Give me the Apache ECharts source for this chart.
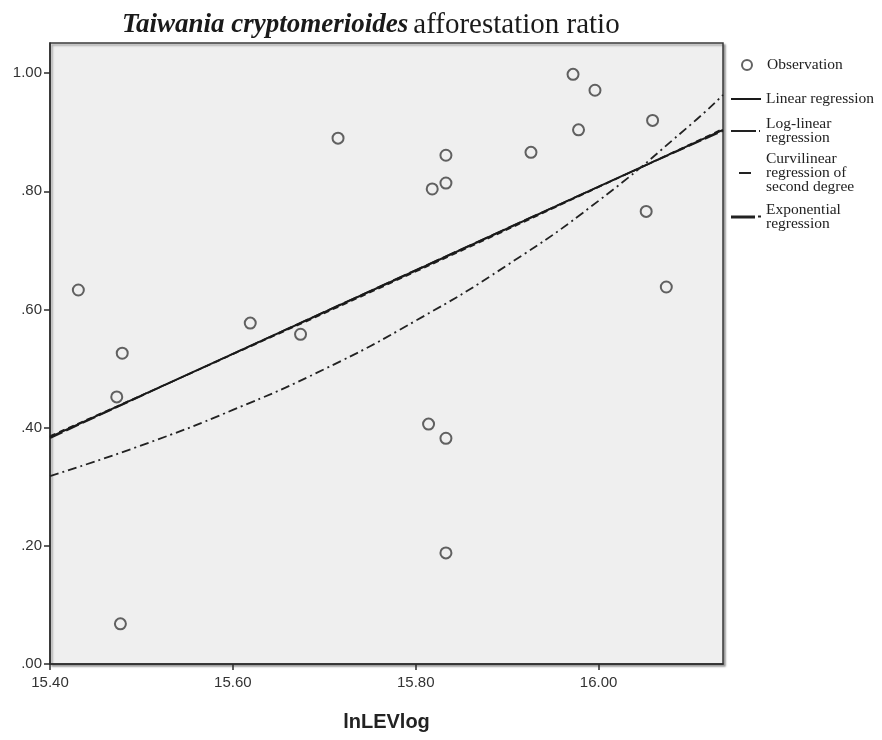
<!DOCTYPE html>
<html lang="en">
<head>
    <meta charset="UTF-8">
    <title>Taiwania cryptomerioides afforestation ratio</title>
    <script src="https://cdn.jsdelivr.net/npm/echarts@6/dist/echarts.min.js"></script>
    <style>
        body { margin: 0; background: #fff; }
    </style>
</head>
<body>
    <div id="graph" style="width: 882px; height: 740px;"></div>

    <script>
        // observations (lnLEVlog, afforestation ratio)
        var obsX = [15.431, 15.479, 15.473, 15.477, 15.619, 15.674, 15.715, 15.818, 15.833, 15.833,
                    15.814, 15.833, 15.833, 15.926, 15.972, 15.996, 15.978, 16.059, 16.052, 16.074];
        var obsY = [0.633, 0.526, 0.452, 0.068, 0.577, 0.558, 0.890, 0.804, 0.814, 0.861,
                    0.406, 0.382, 0.188, 0.866, 0.998, 0.971, 0.904, 0.920, 0.766, 0.638];

        // fitted curves
        var fitX = [15.40, 15.60, 15.80, 16.00, 16.136];
        var linearY = [0.384, 0.525, 0.666, 0.808, 0.904];
        var logLinearY = [0.382, 0.525, 0.667, 0.808, 0.902];
        var quadY = [0.386, 0.524, 0.664, 0.807, 0.906];
        var expX = [15.40, 15.50, 15.60, 15.70, 15.80, 15.90, 16.00, 16.10, 16.136];
        var expY = [0.318, 0.370, 0.430, 0.499, 0.581, 0.675, 0.784, 0.912, 0.963];

        var xTicks = [15.4, 15.6, 15.8, 16.0];
        var yTicks = [0, 0.2, 0.4, 0.6, 0.8, 1.0];

        function pairs(xs, ys) {
            var out = [];
            for (var i = 0; i < xs.length; i++) out.push([xs[i], ys[i]]);
            return out;
        }

        var ink = '#2b2b2b';
        var serif = '"Liberation Serif", "DejaVu Serif", serif';
        var sans = '"Liberation Sans", Arial, sans-serif';

        function oneLegend(name, top, icon, h) {
            return {
                data: [{name: name, icon: icon}],
                left: 731, top: top, padding: 0,
                itemWidth: 30, itemHeight: h,
                textStyle: {fontFamily: serif, fontSize: 15.5, lineHeight: 14, color: '#222'},
                selectedMode: false
            };
        }

        var myChart = echarts.init(document.getElementById('graph'));
        var option = {
            animation: false,
            title: {
                text: '{i|Taiwania cryptomerioides} {n|afforestation ratio}',
                left: 117, top: 6,
                textStyle: {
                    rich: {
                        i: {fontFamily: serif, fontSize: 27, fontStyle: 'italic', fontWeight: 'bold', color: '#1a1a1a'},
                        n: {fontFamily: serif, fontSize: 29, fontWeight: 'normal', color: '#1a1a1a'}
                    }
                }
            },
            legend: [
                oneLegend('Observation', 57, 'path://M0,5 L0,5 M30,5 L30,5 M20,5 A5,5 0 1 1 10,5 A5,5 0 1 1 20,5 Z', 10),
                oneLegend('Linear regression', 91, 'rect', 2),
                oneLegend('Log-linear\nregression', 116, 'path://M0,0 H25 V2 H0 Z M28,0 H29 V2 H28 Z M30,1 L30,1', 2),
                oneLegend('Curvilinear\nregression of\nsecond degree', 151, 'path://M0,0 L0,0 M8,0 H20 V2 H8 Z M30,0 L30,0', 2),
                oneLegend('Exponential\nregression', 202, 'path://M0,0 H24 V3 H0 Z M27,0 H30 V2 H27 Z', 3)
            ],
            grid: {
                left: 50, top: 43, width: 673, height: 621,
                show: true,
                backgroundColor: '#efefef',
                borderColor: '#3a3a3a',
                borderWidth: 1.5,
                shadowColor: 'rgba(0,0,0,0.35)',
                shadowBlur: 2,
                shadowOffsetX: 2,
                shadowOffsetY: 2
            },
            xAxis: {
                type: 'value',
                min: 15.4, max: 16.136,
                name: 'lnLEVlog',
                nameLocation: 'middle',
                nameGap: 48,
                nameTextStyle: {fontFamily: sans, fontSize: 20, fontWeight: 'bold', color: '#222'},
                splitLine: {show: false},
                axisLine: {show: true, lineStyle: {color: ink, width: 1.5}},
                axisTick: {show: true, length: 6, customValues: xTicks, lineStyle: {color: ink, width: 1.5}},
                axisLabel: {
                    customValues: xTicks,
                    margin: 11,
                    fontFamily: sans, fontSize: 15, color: '#333',
                    formatter: function (v) { return v.toFixed(2); }
                }
            },
            yAxis: {
                type: 'value',
                min: 0, max: 1.051,
                splitLine: {show: false},
                axisLine: {show: true, lineStyle: {color: ink, width: 1.5}},
                axisTick: {show: true, length: 6, customValues: yTicks, lineStyle: {color: ink, width: 1.5}},
                axisLabel: {
                    customValues: yTicks,
                    margin: 8,
                    fontFamily: sans, fontSize: 15, color: '#333',
                    formatter: function (v) { return v.toFixed(2).replace(/^0/, ''); }
                }
            },
            series: [
                {
                    name: 'Observation',
                    type: 'scatter',
                    data: pairs(obsX, obsY),
                    symbol: 'circle',
                    symbolSize: 11,
                    itemStyle: {color: 'rgba(0,0,0,0)', borderColor: '#3c3c3c', borderWidth: 2}
                },
                {
                    name: 'Log-linear\nregression',
                    type: 'line',
                    data: pairs(fitX, logLinearY),
                    showSymbol: false,
                    smooth: true,
                    itemStyle: {color: '#222'},
                    lineStyle: {color: '#222', width: 1.5, type: [14, 4]}
                },
                {
                    name: 'Curvilinear\nregression of\nsecond degree',
                    type: 'line',
                    data: pairs(fitX, quadY),
                    showSymbol: false,
                    smooth: true,
                    itemStyle: {color: '#222'},
                    lineStyle: {color: '#222', width: 1.5, type: [6, 4]}
                },
                {
                    name: 'Linear regression',
                    type: 'line',
                    data: pairs(fitX, linearY),
                    showSymbol: false,
                    itemStyle: {color: '#1a1a1a'},
                    lineStyle: {color: '#1a1a1a', width: 2}
                },
                {
                    name: 'Exponential\nregression',
                    type: 'line',
                    data: pairs(expX, expY),
                    showSymbol: false,
                    smooth: true,
                    itemStyle: {color: '#222'},
                    lineStyle: {color: '#222', width: 1.8, type: [9, 4, 2, 4]}
                }
            ]
        };
        myChart.setOption(option);
    </script>
</body>
</html>
